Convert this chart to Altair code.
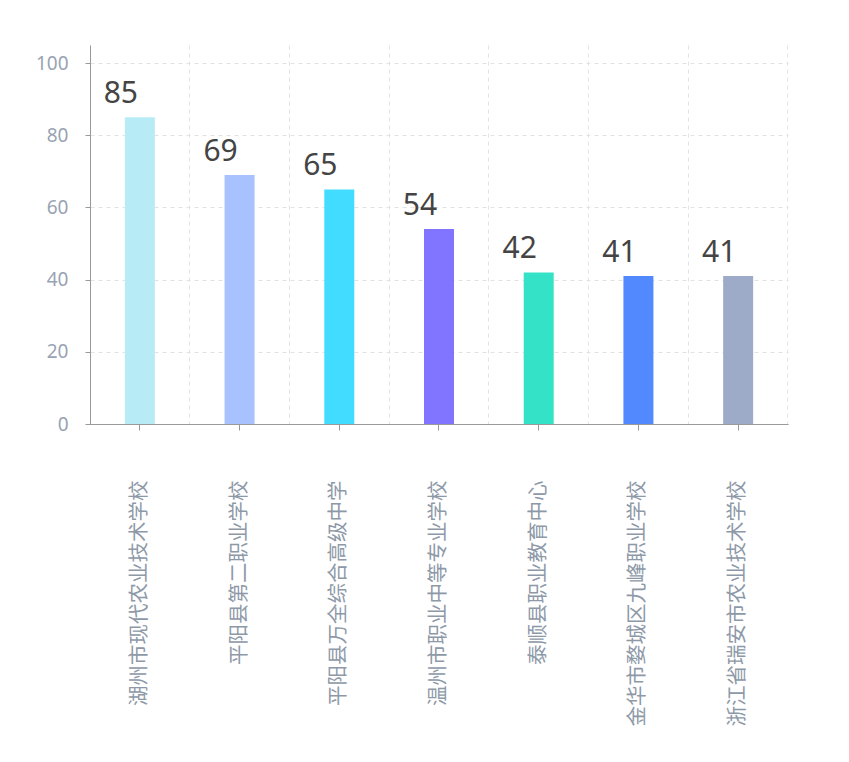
import altair as alt
import pandas as pd

schools = ["湖州市现代农业技术学校", "平阳县第二职业学校", "平阳县万全综合高级中学",
           "温州市职业中等专业学校", "泰顺县职业教育中心", "金华市婺城区九峰职业学校",
           "浙江省瑞安市农业技术学校"]
values = [85, 69, 65, 54, 42, 41, 41]
colors = ["#b7ecf7", "#a8c2ff", "#41dcff", "#8174ff", "#34e2c7", "#5389ff", "#9eabc8"]

df = pd.DataFrame({"school": schools, "value": values})

x_main = alt.X("school:N", sort=None, title=None,
               scale=alt.Scale(paddingInner=0, paddingOuter=0),
               axis=alt.Axis(labelAngle=-90, labelAlign="right", labelBaseline="middle",
                             labelFont="Noto Sans CJK SC", labelFontSize=20.5,
                             labelColor="#8e99a8", labelPadding=50, labelLimit=400,
                             tickSize=6, tickColor="#999999", domainColor="#999999",
                             grid=False, orient="bottom"))
x_grid = alt.X("school:N", sort=None, title=None,
               axis=alt.Axis(bandPosition=1, grid=True, gridDash=[4, 4], gridColor="#e3e3e3",
                             labels=False, ticks=False, domain=False, orient="bottom"))
y = alt.Y("value:Q", title=None,
          scale=alt.Scale(domain=[0, 105], nice=False),
          axis=alt.Axis(values=[0, 20, 40, 60, 80, 100], grid=True, gridDash=[4, 4],
                        gridColor="#e3e3e3", labelFont="Noto Sans", labelFontSize=19,
                        labelColor="#98a3b3", labelPadding=17, tickSize=5,
                        tickColor="#999999", domainColor="#999999"))

color = alt.Color("school:N", sort=None, scale=alt.Scale(domain=schools, range=colors), legend=None)

bars = alt.Chart(df).mark_bar(size=30).encode(x=x_main, y=y, color=color)
labels = alt.Chart(df).mark_text(dx=-19, dy=-14, baseline="alphabetic", align="center",
                                 fontSize=30, font="Noto Sans", color="#444444").encode(
    x=x_grid,
    y=alt.Y("value:Q", scale=alt.Scale(domain=[0, 105], nice=False)),
    text=alt.Text("value:Q"))

chart = alt.layer(bars, labels).resolve_axis(x="independent").properties(
    width=698, height=379,
    autosize=alt.AutoSizeParams(type="none"),
    padding={"left": 82, "top": 37, "right": 40, "bottom": 320},
).configure(background="white").configure_view(stroke=None, strokeWidth=0)

chart.save("out.html", embed_options={"renderer": "svg", "actions": False})
